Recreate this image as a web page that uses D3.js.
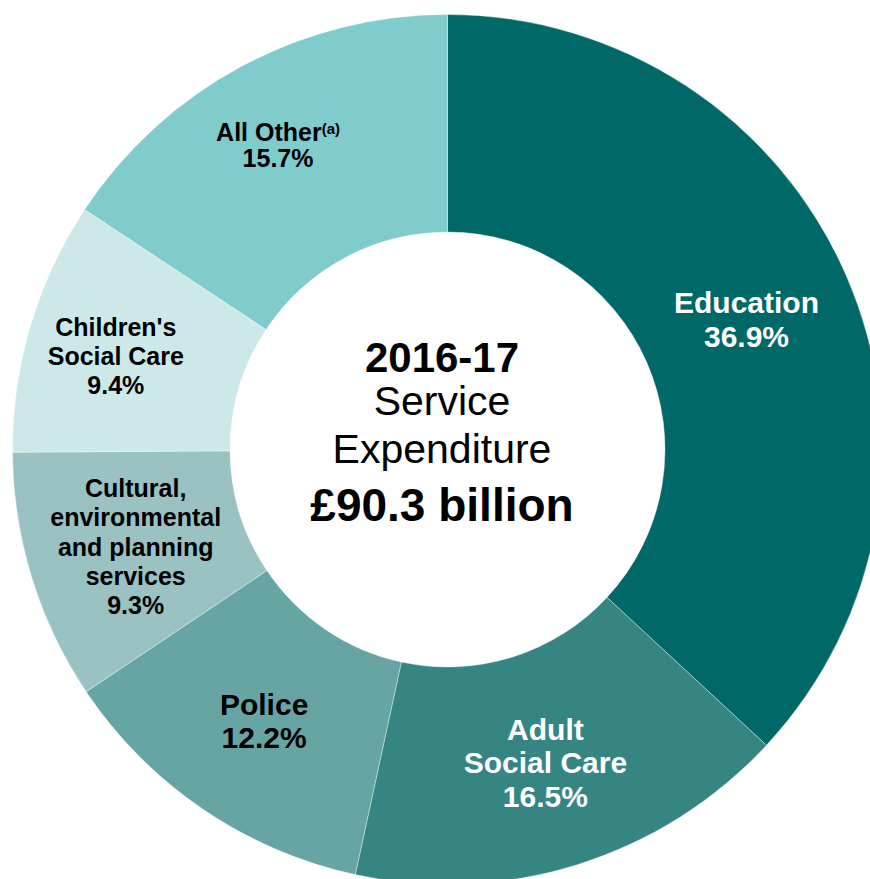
<!DOCTYPE html>
<html>
<head>
<meta charset="utf-8">
<script src="https://cdn.jsdelivr.net/npm/d3@7"></script>
<style>
  body { margin: 0; background: #fff; }
  text { font-family: "Liberation Sans", Arial, sans-serif; }
</style>
</head>
<body>
<svg id="chart"></svg>
<script>
/* data */
const categories = ['Education', 'Adult Social Care', 'Police',
  'Cultural, environmental and planning services', "Children's Social Care", 'All Other']
const shares = [36.9, 16.5, 12.2, 9.3, 9.4, 15.7]
const nameLines = [
  ['Education'],
  ['Adult', 'Social Care'],
  ['Police'],
  ['Cultural,', 'environmental', 'and planning', 'services'],
  ["Children's", 'Social Care'],
  ['All Other']
]
const footnotes = ['', '', '', '', '', '(a)']
const centreLines = ['2016-17', 'Service', 'Expenditure', '£90.3 billion']

/* layout */
const width = 870, height = 879
const cx = 447.5, cy = 449.5
const outerR = 435, innerR = 217.5

const colours = ['#006866', '#358583', '#66a5a3', '#9ac2c2', '#cce8e8', '#80cbcc']
const textColours = ['#fff', '#fff', '#000', '#000', '#000', '#000']
// font size, line height, nudge from centroid
const labelStyle = [
  {size: 30, lh: 34, dx: 0, dy: 0},
  {size: 30, lh: 33.5, dx: 0, dy: 2},
  {size: 30, lh: 33, dx: 0, dy: 2},
  {size: 25, lh: 29.3, dx: 0, dy: 1.5},
  {size: 25, lh: 29, dx: -19, dy: 0},
  {size: 25, lh: 26, dx: -15, dy: -17}
]

const svg = d3.select('#chart')
  .attr('width', width)
  .attr('height', height)

const g = svg.append('g')
  .attr('transform', 'translate(' + cx + ',' + cy + ')')

const pie = d3.pie().sort(null).value(d => d)
const arcs = pie(shares)

const arc = d3.arc().innerRadius(innerR).outerRadius(outerR)
const labelArc = d3.arc().innerRadius((innerR + outerR) / 2).outerRadius((innerR + outerR) / 2)

/* slices */
g.selectAll('path.slice')
  .data(arcs)
  .enter()
  .append('path')
  .attr('class', 'slice')
  .attr('d', arc)
  .attr('fill', (d, i) => colours[i])
  .attr('stroke', 'rgba(255,255,255,0.45)')
  .attr('stroke-width', 0.8)

/* slice labels */
arcs.forEach((d, i) => {
  const st = labelStyle[i]
  const c = labelArc.centroid(d)
  const lines = nameLines[i].concat([d3.format('.1f')(shares[i]) + '%'])
  const n = lines.length
  const t = g.append('text')
    .attr('text-anchor', 'middle')
    .attr('font-weight', 'bold')
    .attr('font-size', st.size)
    .attr('fill', textColours[i])
  lines.forEach((line, k) => {
    const ts = t.append('tspan')
      .attr('x', c[0] + st.dx)
      .attr('y', c[1] + st.dy + (k - (n - 1) / 2) * st.lh + st.size * 0.35)
      .text(line)
    if (k === 0 && footnotes[i]) {
      t.append('tspan')
        .attr('font-size', st.size * 0.6)
        .attr('dy', -7)
        .text(footnotes[i])
    }
  })
})

/* centre text */
const centreStyle = [
  {size: 42, weight: 'bold', y: -77.5},
  {size: 41, weight: 'normal', y: -34.5},
  {size: 41, weight: 'normal', y: 13.5},
  {size: 46, weight: 'bold', y: 71}
]
centreLines.forEach((line, k) => {
  g.append('text')
    .attr('x', -5.5)
    .attr('y', centreStyle[k].y)
    .attr('text-anchor', 'middle')
    .attr('font-size', centreStyle[k].size)
    .attr('font-weight', centreStyle[k].weight)
    .attr('fill', '#000')
    .text(line)
})
</script>
</body>
</html>
